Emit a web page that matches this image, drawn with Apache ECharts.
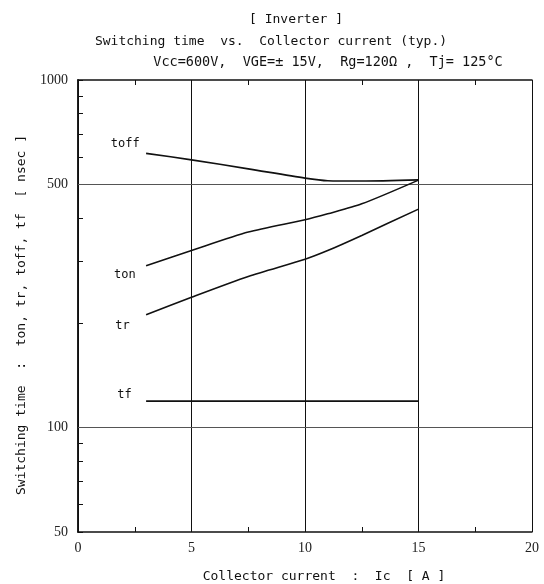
<!DOCTYPE html>
<html>
<head>
  <meta charset="utf-8">
  <title>Switching time vs. Collector current</title>
  <style>
    html, body { margin: 0; padding: 0; background: #fff; }
    #chart { width: 544px; height: 584px; }
  </style>
</head>
<body>
  <div id="chart"></div>
  <script src="https://cdn.jsdelivr.net/npm/echarts@6/dist/echarts.min.js"></script>
  <script>
    // values (Ic in A, times in nsec)
    var currentIc = [3, 5, 7.5, 10, 11, 12.5, 15];
    var toffValues = [615, 589, 555, 522, 513, 512, 516];
    var tonValues = [292, 323, 365, 396, 412, 440, 515];
    var trValues = [211, 237, 272, 305, 323, 357, 425];
    var tfValues = [119, 119, 119, 119, 119, 119, 119];

    var yLabelValues = [50, 100, 500, 1000];
    var yTickValues = [50, 60, 70, 80, 90, 100, 200, 300, 400, 500, 600, 700, 800, 900, 1000];
    var gridValues = [100, 500];

    var mono = 'DejaVu Sans Mono';
    var serif = 'Liberation Serif';

    function pairs(vals) {
      return currentIc.map(function (x, i) { return [x, vals[i]]; });
    }

    // label only on the first point, left of the curve start
    function curve(name, vals, dist, off) {
      var d = pairs(vals);
      d[0] = {
        value: d[0],
        label: {
          show: true, position: 'left', distance: dist, offset: off,
          formatter: name, fontFamily: mono, fontSize: 12, color: '#111'
        }
      };
      return {
        name: name,
        type: 'line',
        data: d,
        smooth: 0.25,
        showSymbol: true,
        symbol: 'circle',
        symbolSize: 1,
        itemStyle: { color: 'rgba(0,0,0,0)', borderWidth: 0 },
        lineStyle: { color: '#111', width: 1.6 },
        z: 5
      };
    }

    var series = [
      curve('toff', toffValues, 6, [0, -9]),
      curve('ton', tonValues, 10, [0, 9]),
      curve('tr', trValues, 16, [0, 11]),
      curve('tf', tfValues, 14, [0, -6])
    ];
    series[3].markLine = {
      silent: true,
      symbol: 'none',
      label: { show: false },
      lineStyle: { color: '#555', type: 'solid', width: 1.2 },
      data: gridValues.map(function (v) { return { yAxis: v }; })
    };

    var titleStyle = { fontFamily: mono, fontSize: 13, fontWeight: 'normal', color: '#111' };

    var option = {
      animation: false,
      backgroundColor: '#fff',
      title: [
        { text: '[ Inverter ]', left: 291, top: 8, textAlign: 'center', textStyle: titleStyle },
        { text: 'Switching time  vs.  Collector current (typ.)', left: 266, top: 30, textAlign: 'center', textStyle: titleStyle },
        { text: 'Vcc=600V,  VGE=± 15V,  Rg=120Ω ,  Tj= 125°C', left: 323, top: 50, textAlign: 'center', textStyle: { fontFamily: mono, fontSize: 13.5, fontWeight: 'normal', color: '#111' } }
      ],
      grid: { left: 78, right: 12, top: 80, bottom: 52, outerBoundsMode: 'none', containLabel: false },
      xAxis: [
        {
          type: 'value', min: 0, max: 20, interval: 5,
          name: 'Collector current  :  Ic  [ A ]',
          nameLocation: 'middle', nameGap: 38,
          nameTextStyle: { fontFamily: mono, fontSize: 13, color: '#111', padding: [0, 0, 0, 38] },
          axisLine: { lineStyle: { color: '#111', width: 1.5 } },
          axisTick: { inside: true, length: 5, lineStyle: { color: '#111' } },
          minorTick: { show: true, splitNumber: 2, length: 5, lineStyle: { color: '#111' } },
          axisLabel: { fontFamily: serif, fontSize: 14, color: '#222', margin: 9 },
          splitLine: { show: true, lineStyle: { color: '#111', width: 1 } }
        },
        {
          type: 'value', min: 0, max: 20, interval: 5, position: 'top',
          axisLine: { lineStyle: { color: '#111', width: 1.5 } },
          axisTick: { inside: true, length: 5, lineStyle: { color: '#111' } },
          minorTick: { show: true, splitNumber: 2, length: 5, lineStyle: { color: '#111' } },
          axisLabel: { show: false },
          splitLine: { show: false }
        }
      ],
      yAxis: [
        {
          type: 'log', logBase: 10, min: 50, max: 1000,
          name: 'Switching time  :  ton, tr, toff, tf  [ nsec ]',
          nameLocation: 'middle', nameGap: 50, nameRotate: 90,
          nameTextStyle: { fontFamily: mono, fontSize: 13, color: '#111', padding: [0, 18, 0, 0] },
          axisLine: { show: true, lineStyle: { color: '#111', width: 1.5 } },
          axisTick: { show: true, inside: true, length: 5, customValues: yTickValues, lineStyle: { color: '#111' } },
          axisLabel: {
            customValues: yLabelValues, fontFamily: serif, fontSize: 14, color: '#222', margin: 10,
            formatter: function (v) { return String(v); }
          },
          splitLine: { show: false }
        },
        {
          type: 'log', logBase: 10, min: 50, max: 1000, position: 'right',
          axisLine: { show: true, lineStyle: { color: '#111', width: 1.5 } },
          axisTick: { show: false },
          axisLabel: { show: false },
          splitLine: { show: false }
        }
      ],
      series: series
    };

    var chart = echarts.init(document.getElementById('chart'));
    chart.setOption(option);
  </script>
</body>
</html>
